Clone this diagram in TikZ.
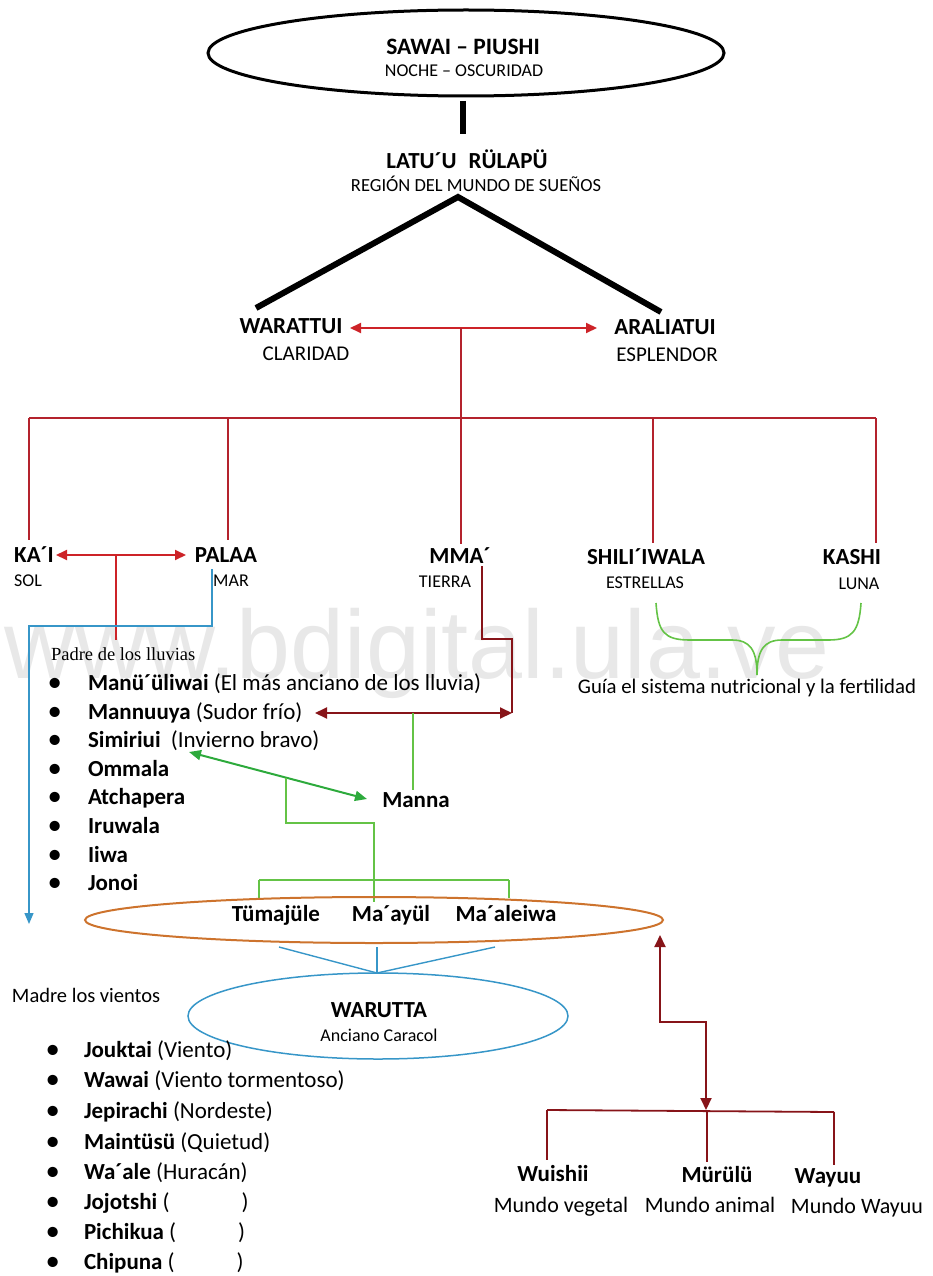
\documentclass[tikz,border=0pt]{standalone}
\usepackage{fontspec}
\setmainfont{Carlito}
\newfontfamily\seriffont{Liberation Serif}
\newfontfamily\wmfont{Liberation Sans}
\usetikzlibrary{arrows.meta,shapes.geometric}
\definecolor{treered}{RGB}{180,35,45}
\definecolor{arrred}{RGB}{205,35,40}
\definecolor{maroonc}{RGB}{135,20,25}
\definecolor{lgreen}{RGB}{100,195,70}
\definecolor{agreen}{RGB}{45,170,60}
\definecolor{lblue}{RGB}{55,150,200}
\definecolor{orng}{RGB}{205,115,45}
\definecolor{wmgray}{RGB}{232,232,232}
\newcommand{\bulA}{\llap{\raisebox{-1.2pt}{\scalebox{1.25}{•}}\hspace{26pt}}}
\newcommand{\bulB}{\llap{\raisebox{-1.2pt}{\scalebox{1.25}{•}}\hspace{24pt}}}
\begin{document}
\begin{tikzpicture}[x=1pt,y=-1pt,
  every node/.style={inner sep=0pt,outer sep=0pt},
  big/.style={font=\fontsize{23}{27}\selectfont\bfseries,text height=15pt,text depth=0pt},
  sub/.style={font=\fontsize{18}{22}\selectfont,text height=11.6pt,text depth=0pt},
  subl/.style={font=\fontsize{21}{25}\selectfont,text height=13.5pt,text depth=0pt},
  mundo/.style={font=\fontsize{22}{26}\selectfont,text height=14pt,text depth=0pt},
  item/.style={font=\fontsize{23}{27}\selectfont,anchor=west,text height=15pt,text depth=0pt},
  blackbar/.style={line width=6pt,black},
  treeline/.style={draw=treered,line width=1.6pt},
  redarr/.style={draw=arrred,line width=2pt,{Triangle[length=11pt,width=10pt]}-{Triangle[length=11pt,width=10pt]}},
  marline/.style={draw=maroonc,line width=2pt},
  mararr/.style={draw=maroonc,line width=2pt,{Triangle[length=12pt,width=11pt]}-{Triangle[length=12pt,width=11pt]}},
  grline/.style={draw=lgreen,line width=1.4pt},
  grarr/.style={draw=agreen,line width=2pt,{Triangle[length=12pt,width=10pt]}-{Triangle[length=12pt,width=10pt]}},
  blline/.style={draw=lblue,line width=1.4pt},
  blarr/.style={draw=lblue,line width=1.4pt,-{Triangle[length=11pt,width=9pt]}}
]
\useasboundingbox (0,0) rectangle (932,1276);
% watermark
\node[font=\wmfont\fontsize{97}{97}\selectfont,text=wmgray,anchor=base west] (wm) at (5,678) {www.bdigital.ula.ve};

% top ellipse
\node[ellipse,draw,line width=3pt,minimum width=516pt,minimum height=86pt] (night) at (466,53) {};
\node[font=\fontsize{23.5}{27}\selectfont\bfseries,text height=15pt,text depth=0pt] (sawai) at (463,47) {SAWAI – PIUSHI};
\node[sub] (noche) at (464,71) {NOCHE – OSCURIDAD};
\coordinate (barT) at (463,101);
\coordinate (barB) at (463,134);
\draw[blackbar] (barT) -- (barB);
\node[big] (latu) at (467,161) {LATU´U\hspace{12pt}RÜLAPÜ};
\node[font=\fontsize{18.5}{22}\selectfont,text height=12pt,text depth=0pt] (region) at (476,186) {REGIÓN DEL MUNDO DE SUEÑOS};
\coordinate (apex) at (458,197);
\coordinate (wL) at (256,308);
\coordinate (wR) at (661,312);
\draw[blackbar] (wL) -- (apex) -- (wR);

% level 2
\node[big] (warattui) at (291,326) {WARATTUI};
\node[subl] (claridad) at (306,354) {CLARIDAD};
\node[big] (araliatui) at (665,327) {ARALIATUI};
\node[subl] (esplendor) at (667,355) {ESPLENDOR};
\coordinate (waE) at (350,328);
\coordinate (arW) at (597,328);
\draw[redarr] (waE) -- (arW);
\coordinate (hubT) at (461,328);
\coordinate (hubB) at (461,418);
\draw[treeline] (hubT) -- (hubB);
\coordinate (hL) at (29,418);
\coordinate (hR) at (876,418);
\draw[treeline] (hL) -- (hR);

% level 3
\node[big] (kai) at (34,555) {KA´I};
\node[sub] (sol) at (28,581) {SOL};
\node[big] (palaa) at (226,555) {PALAA};
\node[sub] (mar) at (231,581) {MAR};
\node[big] (mma) at (460,556) {MMA´};
\node[sub] (tierra) at (445,582) {TIERRA};
\node[big] (shili) at (646,557) {SHILI´IWALA};
\node[sub] (estrellas) at (645,583) {ESTRELLAS};
\node[big] (kashi) at (852,557) {KASHI};
\node[sub] (luna) at (859,584) {LUNA};

\coordinate (kaiT) at (29,540);
\coordinate (palT) at (228,540);
\coordinate (palH) at (228,418);
\coordinate (mmaT) at (461,544);
\coordinate (shT) at (653,543);
\coordinate (shH) at (653,418);
\coordinate (kaT) at (876,543);
\draw[treeline] (hL) -- (kaiT);
\draw[treeline] (palH) -- (palT);
\draw[treeline] (hubB) -- (mmaT);
\draw[treeline] (shH) -- (shT);
\draw[treeline] (hR) -- (kaT);

% ka'i <-> palaa
\coordinate (kaiE) at (56,555);
\coordinate (palW) at (186,555);
\draw[redarr] (kaiE) -- (palW);
\coordinate (kpM) at (116,555);
\coordinate (kpD) at (116,640);
\draw[treeline,draw=arrred] (kpM) -- (kpD);

% blue from MAR
\coordinate (marB) at (212,569);
\coordinate (blueEnd) at (29,924);
\draw[blarr] (marB) -- (212,626) -- (29,626) -- (blueEnd);

% brace
\coordinate (brL) at (656,603);
\coordinate (brR) at (861,603);
\coordinate (brTip) at (757,675);
\draw[draw=lgreen,line width=1.6pt] (brL) .. controls (658,632) and (664,640) .. (690,640)
  -- (732,640) .. controls (750,640) and (757,650) .. (brTip)
  .. controls (757,650) and (764,640) .. (782,640)
  -- (828,640) .. controls (852,640) and (859,632) .. (brR);
\node[font=\fontsize{20.8}{24}\selectfont,text height=13pt,text depth=0pt] (guia) at (747,687) {Guía el sistema nutricional y la fertilidad};

% list 1
\node[font=\seriffont\fontsize{18.5}{22}\selectfont,anchor=west,text height=12pt,text depth=0pt] (padre) at (51,654) {Padre de los lluvias};
\node[item] (l1) at (88,683) {\bulA\textbf{Manü´üliwai} (El más anciano de los lluvia)};
\node[item] (l2) at (88,712) {\bulA\textbf{Mannuuya} (Sudor frío)};
\node[item] (l3) at (88,740) {\bulA\textbf{Simiriui}\hspace{5pt} (Invierno bravo)};
\node[item] (l4) at (88,769) {\bulA\textbf{Ommala}};
\node[item] (l5) at (88,797) {\bulA\textbf{Atchapera}};
\node[item] (l6) at (88,826) {\bulA\textbf{Iruwala}};
\node[item] (l7) at (88,855) {\bulA\textbf{Iiwa}};
\node[item] (l8) at (88,883) {\bulA\textbf{Jonoi}};

% maroon from MMA
\coordinate (mmaR) at (482,566);
\coordinate (marEnd) at (512,713);
\coordinate (manuyE) at (315,713);
\draw[marline] (mmaR) -- (482,639) -- (512,639) -- (marEnd);
\draw[mararr] (manuyE) -- (marEnd);

% Manna
\node[big] (manna) at (416,800) {Manna};
\coordinate (mgT) at (413,713);
\coordinate (mgB) at (413,790);
\draw[grline] (mgT) -- (mgB);
\coordinate (simE) at (189,752);
\coordinate (manW) at (367,799);
\draw[grarr] (simE) -- (manW);
\coordinate (gj) at (286,778);
\coordinate (gh) at (374,880);
\draw[grline] (gj) -- (286,823) -- (374,823) -- (gh);
\coordinate (ghL) at (259,880);
\coordinate (ghR) at (509,880);
\draw[grline] (ghL) -- (ghR);
\draw[grline] (ghL) -- (259,898);
\draw[grline] (gh) -- (374,902);
\draw[grline] (ghR) -- (509,898);

% orange ellipse
\node[ellipse,draw=orng,line width=2pt,minimum width=578pt,minimum height=46pt] (orell) at (374,920) {};
\node[big] (tuma) at (276,914) {Tümajüle};
\node[big] (maayul) at (391,914) {Ma´ayül};
\node[big] (maal) at (506,914) {Ma´aleiwa};

% blue V
\coordinate (vL) at (279,947);
\coordinate (vR) at (495,947);
\coordinate (vM) at (377,947);
\coordinate (vB) at (377,973);
\draw[blline] (vL) -- (vB) -- (vR);
\draw[blline] (vM) -- (vB);

% warutta
\node[ellipse,draw=lblue,line width=1.5pt,minimum width=380pt,minimum height=86pt] (wel) at (378,1016) {};
\node[big] (warutta) at (379,1010) {WARUTTA};
\node[font=\fontsize{18}{21}\selectfont,text height=11.6pt,text depth=0pt] (anciano) at (379,1036) {Anciano Caracol};
\node[font=\fontsize{20.5}{24}\selectfont,anchor=west,text height=13pt,text depth=0pt] (madre) at (12,996) {Madre los vientos};

% list 2
\node[item] (m1) at (84,1050) {\bulB\textbf{Jouktai} (Viento)};
\node[item] (m2) at (84,1080) {\bulB\textbf{Wawai} (Viento tormentoso)};
\node[item] (m3) at (84,1111) {\bulB\textbf{Jepirachi} (Nordeste)};
\node[item] (m4) at (84,1142) {\bulB\textbf{Maintüsü} (Quietud)};
\node[item] (m5) at (84,1172) {\bulB\textbf{Wa´ale} (Huracán)};
\node[item] (m6) at (84,1202) {\bulB\textbf{Jojotshi} (\hspace{72pt})};
\node[item] (m7) at (84,1232) {\bulB\textbf{Pichikua} (\hspace{62pt})};
\node[item] (m8) at (84,1262) {\bulB\textbf{Chipuna} (\hspace{62pt})};

% bottom right
\coordinate (upTip) at (660,935);
\coordinate (downTip) at (706,1110);
\draw[mararr] (upTip) -- (660,1022) -- (706,1022) -- (downTip);
\coordinate (bhL) at (547,1110);
\coordinate (bhR) at (834,1112);
\draw[marline,line width=1.8pt] (bhL) -- (bhR);
\draw[marline,line width=1.8pt] (bhL) -- (547,1160);
\draw[marline,line width=1.8pt] (707,1111) -- (707,1162);
\draw[marline,line width=1.8pt] (bhR) -- (834,1165);
\node[big] (wuishii) at (553,1174) {Wuishii};
\node[mundo] (vegetal) at (561,1205) {Mundo vegetal};
\node[big] (murulu) at (717,1175) {Mürülü};
\node[mundo] (animal) at (710,1205) {Mundo animal};
\node[big] (wayuu) at (828,1176) {Wayuu};
\node[mundo] (mwayuu) at (857,1206) {Mundo Wayuu};
\end{tikzpicture}
\end{document}
